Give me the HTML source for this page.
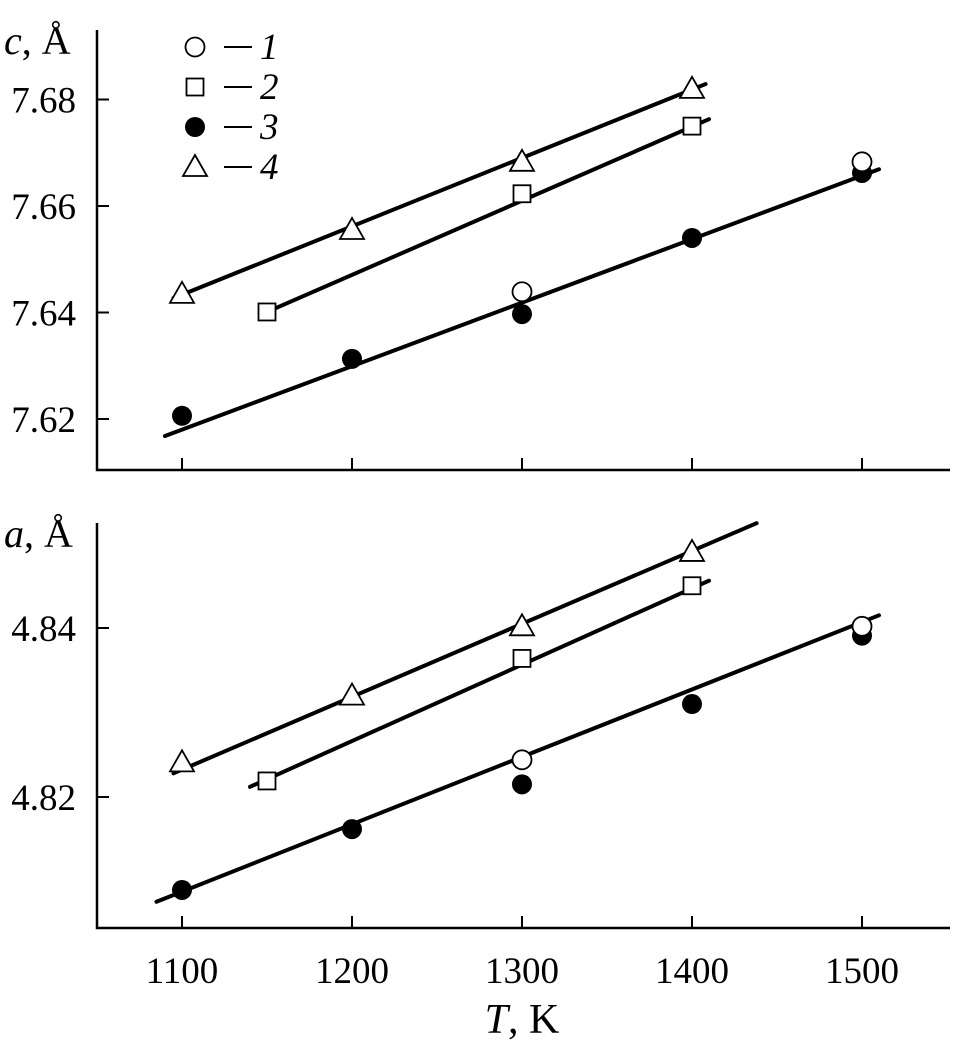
<!DOCTYPE html>
<html><head><meta charset="utf-8"><style>
html,body{margin:0;padding:0;background:#fff}
svg{display:block;font-family:"Liberation Serif",serif}
</style></head><body>
<svg id="c" width="964" height="1048" viewBox="0 0 964 1048"></svg>
<script>
const temps=[1100,1200,1300,1400,1500];
const xTicks=[1100,1200,1300,1400,1500];
const cTicks=[7.62,7.64,7.66,7.68];
const aTicks=[4.82,4.84];
const c1x=[1300,1500], c1y=[7.6439,7.6683];
const c2x=[1150,1300,1400], c2y=[7.6401,7.6623,7.675];
const c3x=[1100,1200,1300,1400,1500], c3y=[7.6206,7.6313,7.6397,7.654,7.6662];
const c4x=[1100,1200,1300,1400], c4y=[7.6435,7.6555,7.6683,7.682];
const a1x=[1300,1500], a1y=[4.8244,4.8402];
const a2x=[1150,1300,1400], a2y=[4.8219,4.8364,4.845];
const a3x=[1100,1200,1300,1400,1500], a3y=[4.809,4.8162,4.8215,4.831,4.8391];
const a4x=[1100,1200,1300,1400], a4y=[4.8241,4.832,4.8402,4.849];
const cFitX=[[1090,1510],[1150,1410],[1095,1408]], cFitY=[[7.6168,7.6669],[7.6401,7.6763],[7.6427,7.6829]];
const aFitX=[[1085,1510],[1140,1410],[1095,1438]], aFitY=[[4.8076,4.8415],[4.8212,4.8456],[4.8228,4.8524]];

const svg=document.getElementById('c');
const NS='http://www.w3.org/2000/svg';
function mk(t,a,parent){const e=document.createElementNS(NS,t);for(const k in a)e.setAttribute(k,a[k]);(parent||svg).appendChild(e);return e;}
const X=v=>182+(v-1100)*1.7;
const Yc=v=>419-(v-7.62)*5325;
const Ya=v=>797-(v-4.82)*8450;

function panel(name,top,bottom,Y,ticks,label){
  const g=mk('g',{});
  
  
  const ax=mk('path',{d:`M97 ${top} V${bottom} H950`,stroke:'#000','stroke-width':2.5,fill:'none'},g);
  
  
  xTicks.forEach(t=>{const l=mk('line',{x1:X(t),x2:X(t),y1:bottom,y2:bottom-12,stroke:'#000','stroke-width':2},g);
    
    });
  ticks.forEach(t=>{const l=mk('line',{x1:97,x2:109,y1:Y(t),y2:Y(t),stroke:'#000','stroke-width':2},g);
    
    
    const tx=mk('text',{x:76,y:Y(t)+13,'text-anchor':'end','font-size':37},g);tx.textContent=t.toFixed(2);
    
    });
  const lt=mk('text',{x:4,y:top+24,'font-size':40},g);
  lt.innerHTML=`<tspan font-style="italic">${label}</tspan>, Å`;
  
  
  return g;
}
function fits(g,fx,fy,Y){fx.forEach((xs,i)=>{const l=mk('line',{x1:X(xs[0]),y1:Y(fy[i][0]),x2:X(xs[1]),y2:Y(fy[i][1]),stroke:'#000','stroke-width':4,'stroke-linecap':'round'},g);
  
  });}
function marker(g,type,cx,cy){let e;
  if(type===1)e=mk('circle',{cx,cy,r:9.5,fill:'#fff',stroke:'#000','stroke-width':1.8},g);
  else if(type===2)e=mk('rect',{x:cx-8.5,y:cy-8.5,width:17,height:17,fill:'#fff',stroke:'#000','stroke-width':1.8},g);
  else if(type===3)e=mk('circle',{cx,cy,r:10,fill:'#000'},g);
  else e=mk('polygon',{points:`${cx},${cy-12} ${cx+12},${cy+9} ${cx-12},${cy+9}`,fill:'#fff',stroke:'#000','stroke-width':1.8},g);
  
  }
function series(g,xs,ys,type,Y){xs.forEach((t,i)=>marker(g,type,X(t),Y(ys[i])));}

const gc=panel('c-panel',30,470,Yc,cTicks,'c');
fits(gc,cFitX,cFitY,Yc);
series(gc,c4x,c4y,4,Yc);series(gc,c2x,c2y,2,Yc);series(gc,c3x,c3y,3,Yc);series(gc,c1x,c1y,1,Yc);
const ga=panel('a-panel',523,928,Ya,aTicks,'a');
fits(ga,aFitX,aFitY,Ya);
series(ga,a4x,a4y,4,Ya);series(ga,a2x,a2y,2,Ya);series(ga,a3x,a3y,3,Ya);series(ga,a1x,a1y,1,Ya);

xTicks.forEach(t=>{const tx=mk('text',{x:X(t),y:983,'text-anchor':'middle','font-size':37});tx.textContent=t;
  
  });
const xt=mk('text',{x:522,y:1033,'text-anchor':'middle','font-size':42});
xt.innerHTML='<tspan font-style="italic">T</tspan>, K';



const lg=mk('g',{});


['1','2','3','4'].forEach((n,i)=>{const cy=47+i*40;
  marker(lg,i+1,195,cy);
  const l=mk('line',{x1:224,x2:252,y1:cy,y2:cy,stroke:'#000','stroke-width':2},lg);
  
  
  const tx=mk('text',{x:260,y:cy+12,'font-size':37,'font-style':'italic'},lg);tx.textContent=n;
  
  });
</script>
</body></html>
